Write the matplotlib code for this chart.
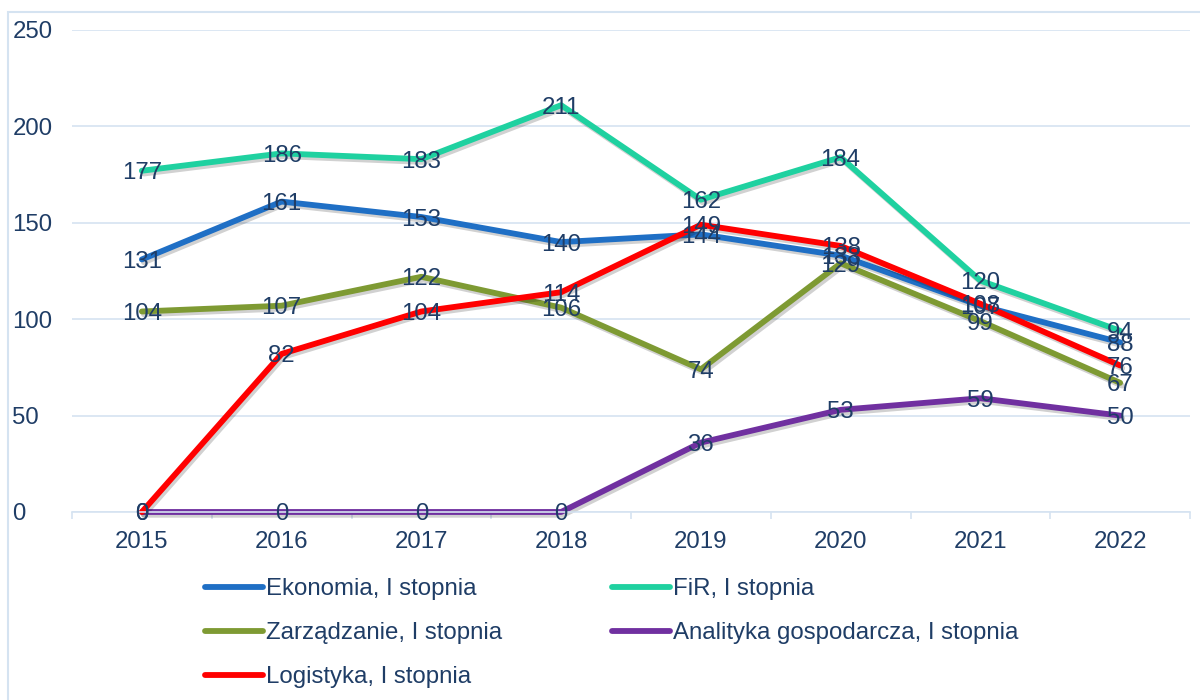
import numpy as np
import matplotlib
matplotlib.use('Agg')
import matplotlib.pyplot as plt
import matplotlib.patheffects as pe
from matplotlib.patches import Rectangle

plt.rcParams['font.family'] = ['Liberation Sans', 'DejaVu Sans']

years = ['2015', '2016', '2017', '2018', '2019', '2020', '2021', '2022']
ekonomia = [131, 161, 153, 140, 144, 133, 107, 88]
fir = [177, 186, 183, 211, 162, 184, 120, 94]
zarzadzanie = [104, 107, 122, 106, 74, 129, 99, 67]
analityka = [0, 0, 0, 0, 36, 53, 59, 50]
logistyka = [0, 82, 104, 114, 149, 138, 108, 76]

names = ['Ekonomia, I stopnia', 'FiR, I stopnia', 'Zarządzanie, I stopnia',
         'Analityka gospodarcza, I stopnia', 'Logistyka, I stopnia']
series = [ekonomia, fir, zarzadzanie, analityka, logistyka]
colors = ['#1F6FC5', '#1FD1A0', '#7E9A33', '#7030A0', '#FF0000']

txt_col = '#1F3D66'
grid_col = '#D5E3F1'
fs = 17.3

fig = plt.figure(figsize=(12, 7), dpi=100)
ax = fig.add_axes([72/1200, 1-512/700, (1190-72)/1200, (512-30)/700])

x = np.arange(len(years))
shadow = [pe.SimpleLineShadow(offset=(1.5, -2), shadow_color='#000000', alpha=0.18),
          pe.Normal()]
handles = []
for vals, name, c in zip(series, names, colors):
    ln, = ax.plot(x, vals, color=c, lw=4.2, solid_capstyle='round',
                  solid_joinstyle='round', label=name, clip_on=False,
                  path_effects=shadow)
    handles.append(ln)

for vals in series:
    for xi, v in zip(x, vals):
        ax.text(xi, v, str(v), ha='center', va='center_baseline', fontsize=fs,
                color=txt_col, zorder=10)

ax.set_xlim(-0.5, 7.32)
ax.set_ylim(0, 250)
ax.set_yticks(np.arange(0, 251, 50))
ax.set_xticks(x)
ax.set_xticklabels(years)
ax.set_xticks(np.arange(-0.5, 7.6, 1), minor=True)
ax.yaxis.grid(True, color=grid_col, lw=1.2)
ax.set_axisbelow(True)
for s in ['top', 'right', 'left']:
    ax.spines[s].set_visible(False)
ax.spines['bottom'].set_color(grid_col)
ax.spines['bottom'].set_linewidth(1.2)
ax.tick_params(axis='x', which='major', length=0, pad=14, labelsize=fs,
               labelcolor=txt_col)
ax.tick_params(axis='x', which='minor', length=5, color=grid_col, width=1.2)
ax.tick_params(axis='y', length=0, pad=43, labelsize=fs, labelcolor=txt_col)
for lab in ax.get_yticklabels():
    lab.set_horizontalalignment('left')

# legend filled row-wise as in the reference
order = [0, 2, 4, 1, 3]
leg = fig.legend(handles=[handles[i] for i in order], labels=[names[i] for i in order],
                 ncol=2, loc='upper left', bbox_to_anchor=(205/1200, 1-578/700),
                 frameon=False, fontsize=fs, handlelength=2.4, handletextpad=0.12,
                 columnspacing=4.6, labelspacing=0.92, labelcolor=txt_col,
                 borderaxespad=0, borderpad=0)
for h in leg.legend_handles:
    h.set_linewidth(4.2)
    h.set_path_effects([])

fig.patches.append(Rectangle((8/1200, -0.05), 1.2, 1-12/700+0.05,
                             transform=fig.transFigure, fill=False,
                             edgecolor=grid_col, lw=1.5))

fig.savefig('out.png', dpi=100)
